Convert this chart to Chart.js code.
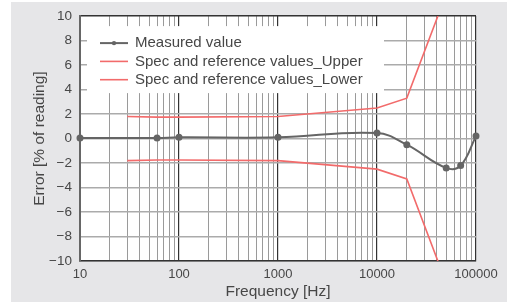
<!DOCTYPE html>
<html>
<head>
<meta charset="utf-8">
<script src="https://cdn.jsdelivr.net/npm/chart.js@4.4.1/dist/chart.umd.min.js"></script>
<style>
  html, body { margin: 0; padding: 0; background: #fff; }
  #wrap { width: 511px; height: 302px; position: relative; }
</style>
</head>
<body>
<div id="wrap"><canvas id="errChart"></canvas></div>
<script>
// ---- Data ---------------------------------------------------------------
const measuredFreq   = [10, 60, 100, 1000, 10000, 20000, 50000, 70000, 100000];
const measuredValues = [0.05, 0.05, 0.1, 0.1, 0.45, -0.5, -2.4, -2.2, 0.2];

const specFreq  = [30, 60, 100, 1000, 10000, 20000, 50000];
const specUpper = [1.8, 1.75, 1.75, 1.8, 2.5, 3.3, 11.8];
const specLower = [-1.8, -1.75, -1.75, -1.8, -2.5, -3.3, -11.8];

const xTickLabels = [10, 100, 1000, 10000, 100000];
const yTickLabels = [-10, -8, -6, -4, -2, 0, 2, 4, 6, 8, 10];

const seriesNames = ['Measured value', 'Spec and reference values_Upper', 'Spec and reference values_Lower'];

// ---- Styling helpers ----------------------------------------------------
const FONT = "'Liberation Sans', Arial, Helvetica, sans-serif";
const TEXT = '#474747';
const RED  = '#f26b6b';
const GREY_LINE = '#656565';

function toPoints(xs, ys) {
  return xs.map(function (x, i) { return { x: x, y: ys[i] }; });
}

function isDecade(v) {
  return xTickLabels.indexOf(v) !== -1;
}

// gray frame + white plot area
const backdrop = {
  id: 'backdrop',
  beforeDraw(chart) {
    const ctx = chart.ctx, a = chart.chartArea;
    ctx.save();
    ctx.fillStyle = '#e6e6e8';
    ctx.fillRect(11, 2, 496, chart.height - 2);
    ctx.fillStyle = '#ffffff';
    ctx.fillRect(a.left, a.top, a.right - a.left, a.bottom - a.top);
    ctx.restore();
  }
};

// legend box drawn over the grid, under the data
const legendBox = {
  id: 'legendBox',
  beforeDatasetsDraw(chart) {
    const ctx = chart.ctx, a = chart.chartArea;
    const bx = a.left + 7, by = a.top + 10;
    ctx.save();
    ctx.fillStyle = '#ffffff';
    ctx.fillRect(bx, by, 297, 67);
    ctx.font = '15px ' + FONT;
    ctx.textBaseline = 'middle';
    ctx.textAlign = 'left';
    chart.data.datasets.forEach(function (ds, i) {
      const y = by + 17 + i * 18.3;
      ctx.strokeStyle = ds.borderColor;
      ctx.lineWidth = ds.borderWidth;
      ctx.beginPath();
      ctx.moveTo(bx + 13, y);
      ctx.lineTo(bx + 41, y);
      ctx.stroke();
      if (ds.pointRadius) {
        ctx.fillStyle = ds.borderColor;
        ctx.beginPath();
        ctx.arc(bx + 27, y, 2.2, 0, Math.PI * 2);
        ctx.fill();
      }
      ctx.fillStyle = TEXT;
      ctx.fillText(ds.label, bx + 48, y);
    });
    ctx.restore();
  }
};

new Chart(document.getElementById('errChart'), {
  type: 'line',
  data: {
    datasets: [
      {
        label: seriesNames[0],
        data: toPoints(measuredFreq, measuredValues),
        borderColor: GREY_LINE,
        backgroundColor: GREY_LINE,
        borderWidth: 2,
        pointRadius: 2.5,
        pointStyle: 'circle',
        tension: 0.4,
        clip: 6
      },
      {
        label: seriesNames[1],
        data: toPoints(specFreq, specUpper),
        borderColor: RED,
        borderWidth: 1.6,
        pointRadius: 0,
        tension: 0
      },
      {
        label: seriesNames[2],
        data: toPoints(specFreq, specLower),
        borderColor: RED,
        borderWidth: 1.6,
        pointRadius: 0,
        tension: 0
      }
    ]
  },
  options: {
    responsive: true,
    maintainAspectRatio: false,
    animation: false,
    events: [],
    layout: { padding: { top: 15, right: 35, bottom: 0, left: 0 } },
    plugins: {
      legend: { display: false },
      tooltip: { enabled: false }
    },
    scales: {
      x: {
        type: 'logarithmic',
        min: 10,
        max: 100000,
        afterFit: function (s) { s.height = 41; },
        afterBuildTicks: function (s) {
          const ticks = [];
          for (let d = 10; d < 100000; d *= 10) {
            for (let k = 1; k <= 9; k++) ticks.push({ value: k * d });
          }
          ticks.push({ value: 100000 });
          s.ticks = ticks;
        },
        border: { color: '#333', width: 1.5 },
        grid: {
          drawTicks: false,
          color: function (c) { return isDecade(c.tick && c.tick.value) ? '#333' : '#9a9a9a'; },
          lineWidth: function (c) { return isDecade(c.tick && c.tick.value) ? 1.2 : 1; },
          borderDash: function (c) { return isDecade(c.tick && c.tick.value) ? [] : [2, 2]; }
        },
        ticks: {
          autoSkip: false,
          maxRotation: 0,
          padding: 6,
          color: TEXT,
          font: { family: FONT, size: 13 },
          callback: function (v) { return isDecade(v) ? String(v) : ''; }
        },
        title: {
          display: true,
          text: 'Frequency [Hz]',
          color: TEXT,
          font: { family: FONT, size: 15.5 },
          padding: { top: 0, bottom: 1 }
        }
      },
      y: {
        min: -10,
        max: 10,
        afterFit: function (s) { s.width = 80; },
        afterBuildTicks: function (s) {
          s.ticks = yTickLabels.map(function (v) { return { value: v }; });
        },
        border: { color: '#666', width: 2 },
        grid: {
          drawTicks: false,
          color: function (c) { return c.tick && c.tick.value === 10 ? '#333' : '#ababab'; },
          lineWidth: function (c) { return c.tick && c.tick.value === 10 ? 1.5 : 1.4; }
        },
        ticks: {
          padding: 8,
          color: TEXT,
          font: { family: FONT, size: 13.5 },
          callback: function (v) { return v < 0 ? '\u2212' + Math.abs(v) : String(v); }
        },
        title: {
          display: true,
          text: 'Error [% of reading]',
          color: TEXT,
          font: { family: FONT, size: 15.5 },
          padding: { top: 30, bottom: 0 }
        }
      }
    }
  },
  plugins: [backdrop, legendBox]
});
</script>
</body>
</html>
